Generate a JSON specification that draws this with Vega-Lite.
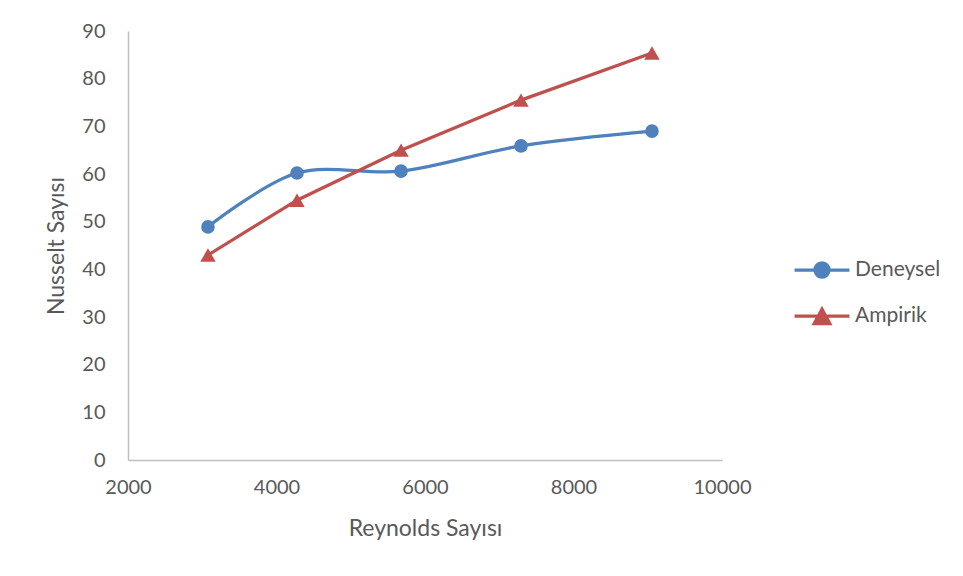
{
  "$schema": "https://vega.github.io/schema/vega-lite/v6.json",
  "width": 594,
  "height": 429,
  "autosize": {"type": "none"},
  "padding": {"left": 128, "top": 31, "right": 241, "bottom": 116},
  "background": "white",
  "config": {
    "font": "Lato",
    "view": {"stroke": null},
    "axis": {"labelFont": "Lato", "titleFont": "Lato", "labelFontSize": 20, "titleFontSize": 23, "labelColor": "#595959", "titleColor": "#595959", "titleFontWeight": "normal", "ticks": false, "grid": false, "domainColor": "#bfbfbf", "domainWidth": 1.5, "labelFlush": false},
    "legend": {"labelFont": "Lato", "labelFontSize": 21, "labelColor": "#595959"}
  },
  "data": {
    "values": [
      {"re": 3077, "nu": 48.9, "series": "Deneysel"},
      {"re": 4276, "nu": 60.2, "series": "Deneysel"},
      {"re": 5677, "nu": 60.6, "series": "Deneysel"},
      {"re": 7293, "nu": 65.9, "series": "Deneysel"},
      {"re": 9057, "nu": 69.0, "series": "Deneysel"},
      {"re": 3077, "nu": 43.0, "series": "Ampirik"},
      {"re": 4276, "nu": 54.5, "series": "Ampirik"},
      {"re": 5677, "nu": 65.0, "series": "Ampirik"},
      {"re": 7293, "nu": 75.5, "series": "Ampirik"},
      {"re": 9057, "nu": 85.4, "series": "Ampirik"}
    ]
  },
  "encoding": {
    "x": {"field": "re", "type": "quantitative", "scale": {"domain": [2000, 10000], "nice": false, "zero": false},
      "axis": {"values": [2000, 4000, 6000, 8000, 10000], "title": "Reynolds Sayısı", "labelPadding": 17, "titlePadding": 20, "format": "d"}},
    "y": {"field": "nu", "type": "quantitative", "scale": {"domain": [0, 90], "nice": false},
      "axis": {"values": [0, 10, 20, 30, 40, 50, 60, 70, 80, 90], "title": "Nusselt Sayısı", "labelPadding": 23, "titlePadding": 13}},
    "color": {"field": "series", "type": "nominal", "scale": {"domain": ["Deneysel", "Ampirik"], "range": ["#4f81bd", "#c0504d"]},
      "legend": {"title": null, "orient": "none", "legendX": 677, "legendY": 222, "padding": 0, "symbolSize": 900, "rowPadding": 15, "labelOffset": 16,
        "encode": {"symbols": {"update": {
          "shape": {"signal": "datum.value === 'Deneysel' ? 'M-1.83,0H1.83M-0.47,0A0.47,0.47 0 1,1 0.47,0A0.47,0.47 0 1,1 -0.47,0Z' : 'M-1.83,0H1.83M-0.52,0.5L0.52,0.5L0,-0.45Z'"},
          "fill": {"signal": "datum.value === 'Deneysel' ? '#4f81bd' : '#c0504d'"},
          "stroke": {"signal": "datum.value === 'Deneysel' ? '#4f81bd' : '#c0504d'"},
          "strokeWidth": {"value": 3.25},
          "opacity": {"value": 1},
          "fillOpacity": {"value": 1},
          "strokeOpacity": {"value": 1}
        }}}}
    }
  },
  "layer": [
    {
      "transform": [{"filter": "datum.series === 'Deneysel'"}],
      "mark": {"type": "line", "interpolate": "catmull-rom", "strokeWidth": 3.25}
    },
    {
      "transform": [{"filter": "datum.series === 'Ampirik'"}],
      "mark": {"type": "line", "strokeWidth": 3.25}
    },
    {
      "transform": [{"filter": "datum.series === 'Deneysel'"}],
      "mark": {"type": "point", "shape": "circle", "filled": true, "opacity": 1, "size": 185}
    },
    {
      "transform": [{"filter": "datum.series === 'Ampirik'"}],
      "mark": {"type": "point", "shape": "triangle-up", "filled": true, "opacity": 1, "size": 240}
    }
  ]
}
